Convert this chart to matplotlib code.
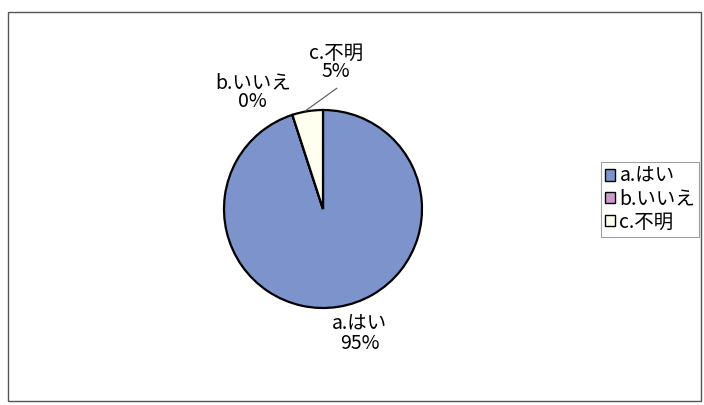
import matplotlib
matplotlib.use("Agg")
import matplotlib.pyplot as plt
from matplotlib.patches import Patch, Rectangle

plt.rcParams['font.family'] = ['Noto Sans CJK JP', 'DejaVu Sans']

# --- data ---
labels = ["a.はい", "b.いいえ", "c.不明"]
values = [95, 0, 5]
colors = ["#7c93cc", "#cc99cc", "#fffff0"]

W, H = 704, 405
fig = plt.figure(figsize=(W / 100, H / 100), dpi=100)

# outer chart frame (px: x 8..701, y 12..401)
fig.add_artist(Rectangle((8 / W, 4 / H), 693 / W, 389 / H, transform=fig.transFigure,
                         fill=False, edgecolor="#555555", lw=1.0))

# pie axes: center ~(323,209) px, radius ~99 px
cx, cy, r = 323, 209, 99
ax = fig.add_axes([(cx - r) / W, (H - cy - r) / H, 2 * r / W, 2 * r / H])
wedges, _ = ax.pie(values, colors=colors, startangle=90, counterclock=False,
                   radius=1.0, wedgeprops=dict(edgecolor="black", linewidth=1.6))
ax.set_xlim(-1, 1); ax.set_ylim(-1, 1)
ax.set_aspect("equal")
ax.axis("off")

# data labels (positions in pie units)
pos = [(0.37, -1.26), (-0.71, 1.18), (0.13, 1.48)]
total = sum(values)
for lab, v, (x, y) in zip(labels, values, pos):
    ax.text(x, y, f"{lab}\n{round(100 * v / total)}%", ha="center", va="center",
            fontsize=14, linespacing=0.85, clip_on=False)

# leader line for c
ax.plot([-0.18, 0.14], [0.99, 1.22], color="#555555", lw=0.8, clip_on=False)

handles = [Patch(facecolor=c, edgecolor="black", lw=1.0) for c in colors]
leg = fig.legend(handles, labels, loc="upper left",
                 bbox_to_anchor=(601 / W, 1 - 162 / H), borderaxespad=0,
                 fontsize=14, handlelength=0.5, handleheight=0.5,
                 handletextpad=0.25, labelspacing=0.1, borderpad=0.2,
                 fancybox=False, edgecolor="#888888")
leg.get_frame().set_linewidth(0.8)

fig.savefig("out.png", dpi=100)
